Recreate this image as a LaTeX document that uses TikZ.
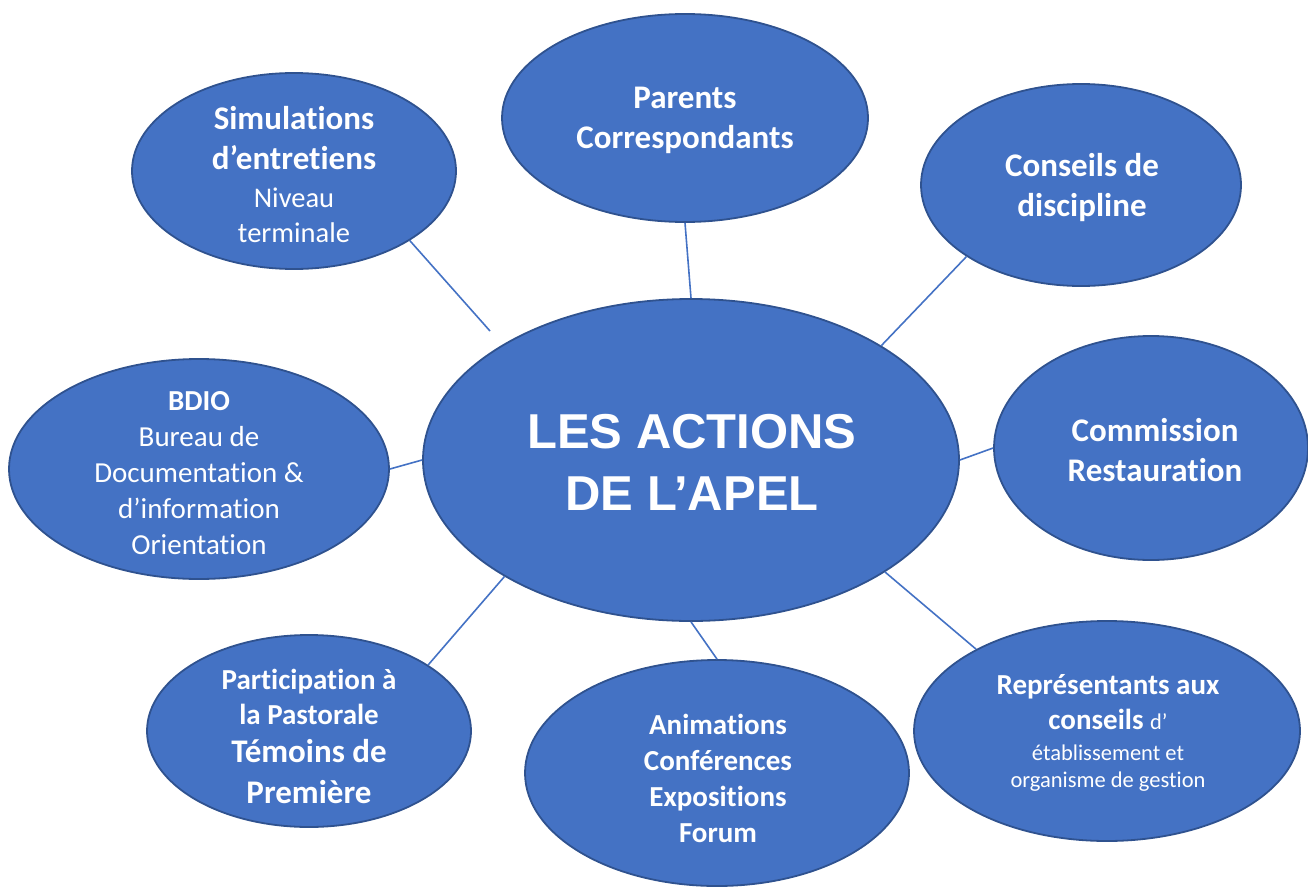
\documentclass[tikz,border=0pt]{standalone}
\usepackage{fontspec}
\setmainfont[Ligatures=NoCommon]{Carlito}
\newfontfamily\arialfont{Liberation Sans}
\usetikzlibrary{shapes.geometric}
\definecolor{fillblue}{HTML}{4472C4}
\definecolor{edgeblue}{HTML}{2F528F}
\newcommand{\bigB}{\fontsize{33}{40}\selectfont\bfseries}
\newcommand{\midB}{\fontsize{29}{36}\selectfont\bfseries}
\newcommand{\regR}{\fontsize{28.5}{35}\selectfont\mdseries}
\newcommand{\midR}{\fontsize{29}{36}\selectfont\mdseries}
\newcommand{\smlR}{\fontsize{22.5}{27}\selectfont\mdseries}
\tikzset{
  bubble/.style={ellipse, draw=edgeblue, line width=1.8pt, fill=fillblue, inner sep=0pt},
  lbl/.style={text=white, align=center, inner sep=0pt},
  link/.style={draw=fillblue, line width=1.6pt}
}
\begin{document}
\begin{tikzpicture}[x=1pt,y=-1pt]
\useasboundingbox (0,0) rectangle (1308,888);
\node[bubble, minimum width=536pt, minimum height=322pt] (c) at (691,460) {};
\node[bubble, minimum width=324pt, minimum height=196pt] (sim) at (294,171) {};
\node[bubble, minimum width=366pt, minimum height=208pt] (par) at (685,118) {};
\node[bubble, minimum width=320pt, minimum height=202pt] (cons) at (1081,185) {};
\node[bubble, minimum width=380pt, minimum height=220pt] (bdio) at (199,469) {};
\node[bubble, minimum width=314pt, minimum height=224pt] (com) at (1151,448) {};
\node[bubble, minimum width=386pt, minimum height=220pt] (rep) at (1107,731) {};
\node[bubble, minimum width=384pt, minimum height=226pt] (ani) at (717,773) {};
\node[bubble, minimum width=324pt, minimum height=192pt] (pas) at (309,731) {};
\coordinate (simend) at (490,331);
\draw[link] (sim.-31.5) -- (simend);
\draw[link] (par.-90) -- (c.90);
\draw[link] (cons.212.9) -- (c.31.2);
\draw[link] (bdio.0) -- (c.180);
\draw[link] (com.180) -- (c.0);
\draw[link] (rep.148.3) -- (c.-30.7);
\draw[link] (ani.90) -- (c.-90);
\draw[link] (pas.29.9) -- (c.-148.9);
% labels
\node[lbl, font=\arialfont\fontsize{49}{62}\selectfont\bfseries] (ctext) at (692,462) {LES ACTIONS\\ DE L’APEL};
\node[lbl, font=\fontsize{28.5}{35}\selectfont] (simtext) at (294,175) {\bigB Simulations\\[5pt] \bigB d’entretiens\\[3pt] \regR Niveau\\ \regR terminale};
\node[lbl, font=\bigB] (partext) at (685,120) {Parents\\ Correspondants};
\node[lbl, font=\bigB] (constext) at (1082,188) {Conseils de\\ discipline};
\node[lbl, font=\midR] (bdiotext) at (199,473) {\midB BDIO\\ \midR Bureau de\\ \midR Documentation \&\\ \midR d’information\\ \midR Orientation};
\node[lbl, font=\bigB] (comtext) at (1155,450) {Commission\\ Restauration};
\node[lbl, font=\midB\fontsize{29}{35}\selectfont] (pastext) at (309,736) {\midB Participation à\\ \midB la Pastorale\\[3pt] \bigB Témoins de\\[6pt] \bigB Première};
\node[lbl, font=\midB] (anitext) at (718,778) {Animations\\ Conférences\\ Expositions\\ Forum};
\node[lbl, font=\smlR] (reptext) at (1108,733) {\midB Représentants aux\\[8pt] \midB conseils {\smlR d’}\\[4pt] \smlR établissement et\\ \smlR organisme de gestion};
\end{tikzpicture}
\end{document}
